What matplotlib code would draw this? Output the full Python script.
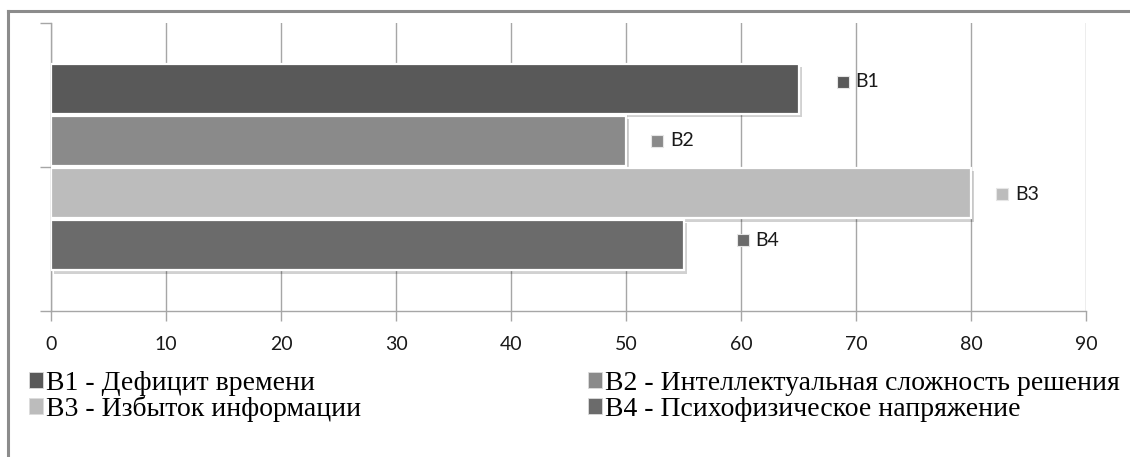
import matplotlib

matplotlib.use("Agg")
import matplotlib.pyplot as plt
import matplotlib.patheffects as pe
from matplotlib.font_manager import FontProperties
from matplotlib.lines import Line2D
from matplotlib.patches import Patch
from matplotlib.transforms import offset_copy

# series: code, legend description, value, colour
codes = ["В1", "В2", "В3", "В4"]
descriptions = [
    "Дефицит времени",
    "Интеллектуальная сложность решения",
    "Избыток информации",
    "Психофизическое напряжение",
]
values = [65, 50, 80, 55]
colors = ["#595959", "#8a8a8a", "#bcbcbc", "#6b6b6b"]

x_ticks = [0, 10, 20, 30, 40, 50, 60, 70, 80, 90]

# where the Excel-style data labels sit relative to the bar end (pixels)
label_dx = [44, 31, 31, 59]
label_dy = [7, 0, -1, 5]

GRID = "#a6a6a6"
SANS = ["Lato", "DejaVu Sans"]
legend_font = FontProperties(family="Liberation Serif", size=20)

fig = plt.figure(figsize=(11.3, 4.57), dpi=100)

# chart area frame (only the top and left edges are in view)
W, H = 1130, 457
fig.add_artist(Line2D([8 / W, 1.0], [1 - 11 / H, 1 - 11 / H], transform=fig.transFigure,
                      color="#8c8c8c", lw=2.2))
fig.add_artist(Line2D([8 / W, 8 / W], [0.0, 1 - 11 / H], transform=fig.transFigure,
                      color="#8c8c8c", lw=2.2))

ax = fig.add_axes([51 / W, 1 - 311 / H, (1086 - 51) / W, (311 - 23) / H])
ax.set_xlim(0, 90)
ax.set_ylim(0, 2)

# four bars in one cluster centred on the middle tick
bar_h = 0.35
step = 0.362
ys = [1 + (1.5 - i) * step for i in range(len(values))]

for y, v, c in zip(ys, values, colors):
    ax.barh(y, v, height=bar_h, color=c, edgecolor="white", linewidth=1.6, zorder=3,
            path_effects=[pe.SimplePatchShadow(offset=(2.5, -2.5), shadow_rgbFace="#000000",
                                               alpha=0.18), pe.Normal()])

# data labels: small key square + series code
for y, v, c, code, dx, dy in zip(ys, values, colors, codes, label_dx, label_dy):
    tr = offset_copy(ax.transData, fig=fig, x=dx, y=dy, units="dots")
    ax.plot([v], [y], marker="s", ms=9, color=c, mec="#e6e6e6", mew=0.8,
            transform=tr, zorder=5, clip_on=False)
    tr_txt = offset_copy(ax.transData, fig=fig, x=dx + 13, y=dy, units="dots")
    ax.text(v, y, code, transform=tr_txt, ha="left", va="center",
            fontsize=14, family=SANS, color="#1a1a1a", zorder=5)

ax.set_xticks(x_ticks)
ax.set_yticks([0, 1, 2])
ax.set_yticklabels([])
ax.grid(axis="x", color=GRID, lw=1.0, zorder=0)
for side in ("top", "right"):
    ax.spines[side].set_visible(False)
for side in ("left", "bottom"):
    ax.spines[side].set_color(GRID)
    ax.spines[side].set_linewidth(1.0)
ax.tick_params(axis="x", length=7, width=1.0, color=GRID, pad=11, labelsize=14,
               labelcolor="#1a1a1a")
ax.tick_params(axis="y", length=8, width=1.0, color=GRID)
for lbl in ax.get_xticklabels():
    lbl.set_family(SANS)

# legend: 2 x 2 grid, one entry per slot so rows can sit tight
handles = [Patch(facecolor=c, edgecolor="#dcdcdc", linewidth=0.6) for c in colors]
names = [f"{code} - {d}" for code, d in zip(codes, descriptions)]
col_x = [29, 588]
row_y = [383, 409]
for i, (h, name) in enumerate(zip(handles, names)):
    fig.legend([h], [name], loc="center left",
               bbox_to_anchor=(col_x[i % 2] / W, 1 - row_y[i // 2] / H),
               frameon=False, handlelength=0.5, handleheight=0.5, handletextpad=0.1,
               borderpad=0, borderaxespad=0, prop=legend_font)

fig.savefig("out.png", dpi=100, facecolor="white")
